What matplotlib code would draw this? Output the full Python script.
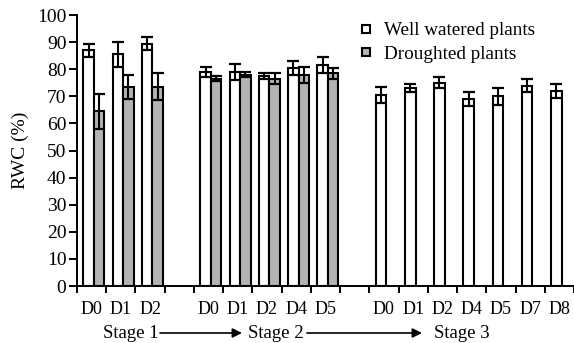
import numpy as np
from matplotlib import pyplot as plt
from matplotlib.lines import Line2D

plt.rcParams['font.family'] = ['Liberation Serif', 'DejaVu Serif']

# data (RWC %, mean and error)
days_s1 = ["D0", "D1", "D2"]
days_s2 = ["D0", "D1", "D2", "D4", "D5"]
days_s3 = ["D0", "D1", "D2", "D4", "D5", "D7", "D8"]
stages = ["Stage 1", "Stage 2", "Stage 3"]

well_s1 = [87, 85.5, 89.5]
well_s1_err = [2.5, 4.5, 2.5]
drought_s1 = [64.5, 73.5, 73.5]
drought_s1_err = [6.5, 4.5, 5]

well_s2 = [79, 79, 77.5, 80.5, 81.5]
well_s2_err = [2, 3, 1, 2.5, 3]
drought_s2 = [76.5, 78, 76.5, 78, 78.5]
drought_s2_err = [1, 1, 2, 3, 2]

well_s3 = [70.5, 73, 75, 69, 70, 74, 72]
well_s3_err = [3, 1.5, 2, 2.5, 3, 2.5, 2.5]

gray = '#b3b3b3'
w = 0.36
shift = 0.08

# slots: stage1 0..2, gap 3, stage2 4..8, gap 9, stage3 10..16
x1 = np.arange(3) + 0.5 + shift
x2 = np.arange(4, 9) + 0.5 + shift
x3 = np.arange(10, 17) + 0.5 + shift

fig = plt.figure(figsize=(5.74, 3.43), dpi=100)
ax = fig.add_axes([0.134, 0.166, 0.866, 0.790])

bar_kw = dict(width=w, edgecolor='black', linewidth=1.5, zorder=2)
err_kw = dict(ecolor='black', elinewidth=1.5, capsize=4, capthick=1.6, zorder=3)

ax.bar(x1 - w / 2, well_s1, yerr=well_s1_err, color='white', error_kw=err_kw, **bar_kw)
ax.bar(x1 + w / 2, drought_s1, yerr=drought_s1_err, color=gray, error_kw=err_kw, **bar_kw)
ax.bar(x2 - w / 2, well_s2, yerr=well_s2_err, color='white', error_kw=err_kw, **bar_kw)
ax.bar(x2 + w / 2, drought_s2, yerr=drought_s2_err, color=gray, error_kw=err_kw, **bar_kw)
ax.bar(x3 - w / 2, well_s3, yerr=well_s3_err, color='white', error_kw=err_kw, **bar_kw)

ax.set_xlim(0, 17)
ax.set_ylim(0, 100)
ax.set_yticks(np.arange(0, 101, 10))
ax.set_xticks(np.arange(0, 18))
ax.set_xticklabels([])
ax.set_xticks(np.concatenate([x1, x2, x3]) - shift, minor=True)
ax.set_xticklabels(days_s1 + days_s2 + days_s3, minor=True)
ax.tick_params(axis='x', which='minor', length=0, pad=11, labelsize=13)
ax.tick_params(axis='x', which='major', length=5, width=1.4, direction='out')
ax.tick_params(axis='y', length=5.5, width=1.4, direction='out', labelsize=14, pad=2)

for s in ['top', 'right']:
    ax.spines[s].set_visible(False)
for s in ['left', 'bottom']:
    ax.spines[s].set_linewidth(1.4)

ax.set_ylabel("RWC (%)", fontsize=14, labelpad=6)

handles = [
    Line2D([], [], marker='s', linestyle='none', markersize=6, markerfacecolor='white',
           markeredgecolor='black', markeredgewidth=1.5),
    Line2D([], [], marker='s', linestyle='none', markersize=6, markerfacecolor=gray,
           markeredgecolor='black', markeredgewidth=1.5),
]
ax.legend(handles, ["Well watered plants", "Droughted plants"], loc='upper left',
          bbox_to_anchor=(358 / 574, 1 - 22 / 343), bbox_transform=fig.transFigure,
          frameon=False, fontsize=13.8, handlelength=0.8, handletextpad=0.55,
          labelspacing=0.3, borderpad=0, borderaxespad=0)

# stage labels with arrows below the axis
ty = 1 - 333 / 343
stage_x = [131 / 574, 276 / 574, 462 / 574]
for sx, name in zip(stage_x, stages):
    fig.text(sx, ty, name, ha='center', va='center', fontsize=13.5)

arrows = [(160, 242), (307, 422)]
for a, b in arrows:
    ax.annotate("", xy=(b / 574, ty), xytext=(a / 574, ty), xycoords='figure fraction',
                textcoords='figure fraction', annotation_clip=False,
                arrowprops=dict(arrowstyle='-|>', mutation_scale=14, lw=1.2,
                                color='black', shrinkA=0, shrinkB=0))

fig.savefig('out.png', dpi=100)
